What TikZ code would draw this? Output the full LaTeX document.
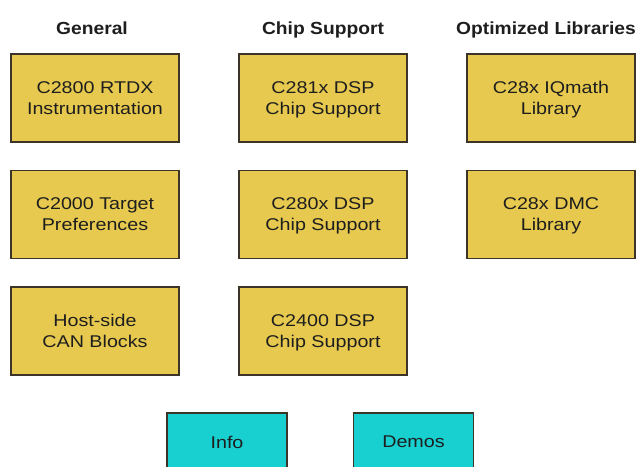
\documentclass[tikz,border=0pt]{standalone}
\usepackage{fontspec}
\setmainfont{Liberation Sans}
\newfontfamily\boxfont[FakeStretch=1.16]{Liberation Sans}
\newfontfamily\headfont[FakeStretch=1.1]{Liberation Sans}
\definecolor{boxyellow}{RGB}{230,201,78}
\definecolor{boxcyan}{RGB}{24,208,208}
\definecolor{boxedge}{RGB}{60,52,40}
\definecolor{txt}{RGB}{30,30,30}
\tikzset{
  tile/.style={draw=boxedge, line width=1.8pt, fill=boxyellow, minimum width=168pt, minimum height=88pt,
    inner sep=0pt, align=center, text depth=0pt, text=txt, font=\boxfont\fontsize{17}{21}\selectfont},
  navtile/.style={tile, fill=boxcyan, minimum width=120pt, minimum height=58pt},
  head/.style={inner sep=0pt, anchor=base, text=txt, font=\headfont\bfseries\fontsize{17.5}{21}\selectfont}
}
\begin{document}
\begin{tikzpicture}[x=1pt,y=-1pt]
\useasboundingbox (0,0) rectangle (639,466);
\clip (0,0) rectangle (639,466);
\node[head] (h1) at (92,34) {General};
\node[head] (h2) at (323,34) {Chip Support};
\node[head] (h3) at (546,34) {Optimized Libraries};
\node[tile] (a1) at (95,98) {C2800 RTDX\\Instrumentation};
\node[tile] (a2) at (95,214.5) {C2000 Target\\Preferences};
\node[tile] (a3) at (95,331) {Host-side\\CAN Blocks};
\node[tile] (b1) at (323,98) {C281x DSP\\Chip Support};
\node[tile] (b2) at (323,214.5) {C280x DSP\\Chip Support};
\node[tile] (b3) at (323,331) {C2400 DSP\\Chip Support};
\node[tile] (c1) at (551,98) {C28x IQmath\\Library};
\node[tile] (c2) at (551,214.5) {C28x DMC\\Library};
\node[navtile] (info) at (227,442) {Info};
\node[navtile] (demos) at (413.5,442) {Demos};
\end{tikzpicture}
\end{document}
